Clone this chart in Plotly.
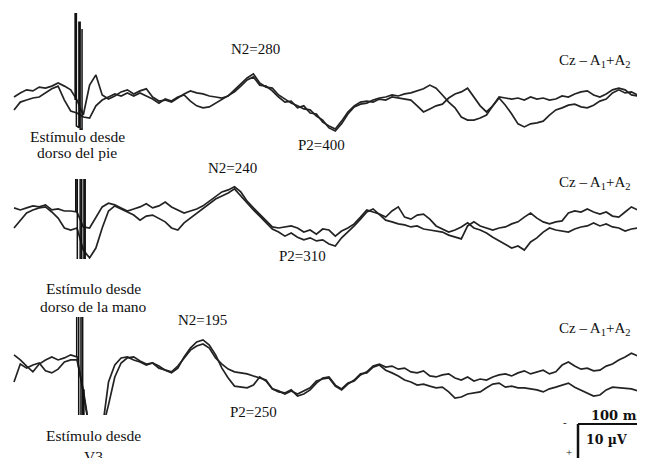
import plotly.graph_objects as go

# The page body adds an 8 px margin, so the figure is sized to fill the rest of
# the 645x458 window and reference pixel positions are shifted by that margin.
OX, OY = 8, 8
W, H = 645 - OX, 458 - OY

# sample times (ms after stimulus)
t_ms = list(range(-100, 901, 10))

# ---- amplitudes in µV (negative plotted upward) ----
pie_a = [
    0.0, -1.2, -2.1, -1.8, -2.9, -2.6, -3.2, -4.1, -3.2, -2.1,
    0.9, 5.3, -3.5, -6.5, -0.6, 0.6, -0.3, -1.5, -2.1, -0.9,
    -1.8, -2.4, 0.0, 1.2, 0.9, 1.5, 0.3, -0.9, -1.8, -1.2,
    -0.9, -0.3, 0.0, 0.3, -0.3, -2.1, -3.8, -5.6, -6.8, -4.1,
    -2.9, -2.6, -0.6, 0.6, 1.8, 2.6, 3.5, 3.8, 5.6, 6.8,
    9.1, 10.0, 7.9, 5.0, 2.9, 2.1, 1.8, 0.9, 0.3, 0.0,
    -0.6, -0.3, -0.9, -1.2, -1.8, -2.4, -3.5, -2.6, -0.6, 1.5,
    3.2, 5.9, 6.8, 6.8, 6.2, 5.3, 2.6, 0.0, 0.3, 0.6,
    0.3, 0.9, 0.0, 0.6, 0.3, 0.9, 0.6, -0.3, 0.0, -0.9,
    -1.5, -1.8, -0.6, 0.0, -0.9, -2.1, -2.6, -2.1, -0.6, -0.3,
    -2.4]
pie_b = [
    3.8, 1.5, 0.9, 0.3, 0.0, -1.2, -2.4, -3.2, 0.9, 4.1,
    4.7, 5.9, 6.2, 2.6, 0.9, 0.0, -0.9, -0.3, -1.2, -0.3,
    -1.2, -0.3, 0.6, 1.8, 0.6, 1.2, 0.0, -0.6, 1.2, 2.6,
    3.2, 2.9, 1.8, 0.6, -0.6, -1.5, -3.2, -5.0, -5.9, -3.5,
    -3.2, -1.8, 0.0, 1.5, 1.2, 3.2, 2.6, 4.7, 5.0, 7.4,
    8.5, 9.4, 7.1, 4.4, 2.6, 1.5, 1.2, 1.5, 0.6, 0.9,
    0.0, 0.3, 0.6, 0.9, 2.6, 4.4, 3.5, 2.6, 2.1, 0.3,
    -0.9, -1.5, -2.6, 0.0, 2.6, 4.4, 2.6, 0.3, 2.4, 5.0,
    7.9, 8.8, 7.9, 7.6, 7.1, 5.3, 3.8, 3.2, 2.4, 2.1,
    2.9, 3.2, 2.4, 1.2, 0.6, -1.2, -2.1, -1.2, -1.5, -0.6,
    0.3]
mano_a = [
    -1.2, -0.6, -1.2, -1.8, -1.5, -2.1, -0.6, -0.9, -0.3, -0.3,
    0.0, 4.4, 4.7, 1.8, -1.5, -2.6, -2.1, -1.2, -0.3, -0.9,
    -1.5, -2.4, -1.2, -1.8, -2.9, -1.5, -0.6, 0.3, -0.3, -0.9,
    -1.8, -3.2, -4.4, -5.9, -6.5, -7.4, -5.9, -3.2, -1.2, 0.6,
    2.6, 4.4, 4.7, 4.4, 4.1, 4.7, 5.9, 5.3, 6.5, 5.0,
    5.3, 7.1, 5.6, 4.7, 3.5, 1.5, -0.6, 0.0, 0.6, 1.5,
    -0.3, -1.5, 1.5, 2.1, 0.9, 0.6, 2.1, 4.1, 5.0, 5.9,
    5.3, 4.4, 3.2, 4.7, 5.3, 6.2, 7.4, 8.5, 9.4, 10.6,
    10.0, 11.2, 8.8, 7.6, 5.9, 4.7, 5.3, 5.6, 5.9, 5.0,
    4.4, 4.1, 3.2, 4.1, 3.5, 4.4, 4.7, 5.6, 5.0, 4.7,
    4.1]
mano_b = [
    4.7, 2.6, 0.3, -0.6, -1.2, -1.5, 0.0, 1.8, 4.7, 5.3,
    4.7, 11.2, 13.5, 10.6, 4.7, -0.3, -1.8, -0.9, 0.0, 0.9,
    2.4, 1.2, 0.9, 1.8, 2.9, 4.7, 5.3, 3.2, 1.8, 0.3,
    -1.2, -2.4, -3.8, -4.7, -5.6, -6.8, -4.7, -2.6, -0.6, 1.2,
    3.2, 5.0, 5.9, 7.1, 6.2, 7.4, 8.2, 7.6, 8.5, 8.2,
    9.4, 10.0, 7.6, 5.9, 4.1, 2.1, 0.0, -0.9, 0.9, 2.4,
    2.9, 3.5, 3.8, 4.4, 4.1, 5.0, 5.3, 5.6, 5.9, 6.8,
    7.4, 7.9, 4.1, 2.9, 4.1, 4.7, 5.3, 4.7, 4.4, 3.5,
    2.9, 1.5, 0.3, 1.8, 2.9, 3.5, 2.9, 2.6, 0.3, -0.3,
    0.0, -0.9, 0.0, 0.6, 0.0, 1.2, 1.5, 0.0, -1.5, -0.6,
    0.3]
v3_a = [
    -2.1, -0.6, 1.2, 2.9, 0.6, -0.6, -1.5, -0.6, -1.2, -2.1,
    -1.5, 9.7, 20.0, 20.0, 20.0, 5.9, 0.9, -1.2, -1.5, -0.6,
    0.0, 0.9, 0.3, 1.2, 2.4, 3.2, 1.8, -1.5, -4.1, -5.9,
    -6.5, -5.0, -2.1, 1.8, 4.7, 7.1, 7.4, 7.6, 6.8, 4.4,
    5.6, 7.9, 8.8, 9.1, 8.2, 10.0, 9.4, 8.2, 6.2, 4.7,
    4.4, 6.8, 7.9, 6.2, 5.6, 3.8, 2.9, 1.2, 0.6, 1.5,
    1.2, 2.1, 1.8, 2.9, 3.2, 2.6, 4.1, 4.4, 3.8, 3.5,
    4.7, 5.3, 4.4, 5.6, 5.0, 5.3, 4.4, 3.8, 3.5, 4.1,
    3.2, 2.6, 3.5, 2.9, 2.4, 3.5, 2.9, 0.9, 0.0, 1.2,
    2.1, 1.8, 2.6, 2.4, 1.2, 0.6, -0.6, -1.5, -2.6, -1.8,
    -1.5]
v3_b = [
    5.9, 0.6, 1.8, 0.9, 0.3, 2.6, 3.2, 2.1, 0.0, -0.6,
    -0.6, 8.2, 20.0, 20.0, 20.0, 12.6, 4.4, 0.3, -1.2, -1.5,
    -0.3, 0.6, 0.3, 1.8, 2.4, 2.9, 1.2, -1.2, -3.5, -4.7,
    -5.3, -4.1, -1.2, 0.6, 2.1, 2.9, 3.2, 3.5, 4.1, 4.7,
    5.3, 7.9, 8.5, 9.4, 8.5, 9.4, 8.5, 7.6, 5.6, 5.0,
    4.7, 7.1, 8.2, 6.5, 5.3, 3.5, 3.2, 1.5, 0.9, 2.4,
    3.2, 4.1, 5.3, 5.9, 6.8, 6.5, 7.1, 7.6, 7.4, 8.8,
    10.6, 10.3, 9.4, 9.1, 8.8, 7.6, 6.5, 6.2, 7.4, 7.1,
    7.6, 7.6, 7.9, 8.2, 8.8, 7.9, 7.4, 6.8, 6.2, 7.4,
    8.2, 9.1, 10.0, 9.7, 8.2, 7.4, 7.6, 7.6, 7.9, 8.5,
    8.8]

# stimulus artefact strokes (ms, µV)
art_pie_t = [-3, -3, -1, -1, 3, 3, 5, 5, 8, 8]
art_pie_v = [0.9, -25, -25, 8.5, 9, -22, -22, 9.5, 9.5, -20]
art_mano_t = [-2, -2, 0.5, 0.5, 5, 5, 7.5, 7.5, 11, 11, 13, 13]
art_mano_v = [0, -12, -12, 15, 15, -12, -12, 15, 15, -12, -12, 15]
art_v3_t = [-0.5, -0.5, 2.7, 2.7, 6.3, 6.3, 9, 9, 11, 11]
art_v3_v = [-1.5, -15, -15, 18, 18, -15, -15, 18, 18, 8]

# ---- layout geometry (reference pixels) ----
T0_PX, PX_PER_MS, PX_PER_UV = 77, 0.63, 3.4
x_range = [(OX - T0_PX) / PX_PER_MS, (OX + W - T0_PX) / PX_PER_MS]
panels = [  # (top px, bottom px, baseline px)
    (13, 133, 97),
    (179, 259, 212),
    (317, 415, 362),
]
series = [
    (pie_a, pie_b, art_pie_t, art_pie_v),
    (mano_a, mano_b, art_mano_t, art_mano_v),
    (v3_a, v3_b, art_v3_t, art_v3_v),
]


def px_x(px):
    return (px - OX) / W


def px_y(py):
    return 1 - (py - OY) / H


LINE = "#232323"
fig = go.Figure()
layout = dict(width=W, height=H, margin=dict(l=0, r=0, t=0, b=0),
              autosize=False, plot_bgcolor="white", paper_bgcolor="white",
              showlegend=False)

for k, ((top, bot, base), (a, b, at, av)) in enumerate(zip(panels, series)):
    sfx = "" if k == 0 else str(k + 1)
    xa, ya = "x" + sfx, "y" + sfx
    for vals in (a, b):
        fig.add_trace(go.Scatter(x=t_ms, y=vals, mode="lines", xaxis=xa, yaxis=ya,
                                 line=dict(color=LINE, width=1.7), hoverinfo="skip"))
    fig.add_trace(go.Scatter(x=at, y=av, mode="lines", xaxis=xa, yaxis=ya,
                             line=dict(color="#111111", width=1.5), hoverinfo="skip"))
    layout["xaxis" + sfx] = dict(domain=[0, 1], range=x_range, visible=False,
                                 anchor=ya, fixedrange=True)
    layout["yaxis" + sfx] = dict(domain=[px_y(bot), px_y(top)],
                                 range=[(bot - base) / PX_PER_UV, (top - base) / PX_PER_UV],
                                 visible=False, anchor=xa, fixedrange=True)

fig.update_layout(**layout)

SERIF = "Liberation Serif, Times New Roman, serif"
WIDE_SERIF = "DejaVu Serif, serif"


def label(text, px, py, size=15, xanchor="center", bold=False, family=SERIF):
    fig.add_annotation(text=("<b>%s</b>" % text) if bold else text,
                       x=px_x(px), y=px_y(py), xref="paper", yref="paper",
                       xanchor=xanchor, yanchor="middle", showarrow=False,
                       font=dict(family=family, size=size, color="#111111"))


cz = "Cz – A<sub>1</sub>+A<sub>2</sub>"
label("N2=280", 255, 49)
label("P2=400", 321, 145)
label(cz, 557, 61, xanchor="left")
label("Estímulo desde", 77, 136, size=15.5)
label("dorso del pie", 77, 152, size=15.5)

label("N2=240", 232, 168)
label("P2=310", 302, 256)
label(cz, 557, 183, xanchor="left")
label("Estímulo desde", 93, 288, size=15.5)
label("dorso de la mano", 93, 306, size=15.5)

label("N2=195", 202, 320)
label("P2=250", 253, 412)
label(cz, 557, 329, xanchor="left")
label("Estímulo desde", 93, 435, size=15.5)
label("V3", 93, 456, size=15.5)

# scale bar: 100 ms horizontal, 10 µV vertical
sb_x, sb_y = 578, 424
fig.add_shape(type="line", xref="paper", yref="paper",
              x0=px_x(sb_x), x1=px_x(sb_x + 100 * PX_PER_MS + 8),
              y0=px_y(sb_y), y1=px_y(sb_y), line=dict(color="#111111", width=2))
fig.add_shape(type="line", xref="paper", yref="paper",
              x0=px_x(sb_x), x1=px_x(sb_x),
              y0=px_y(sb_y), y1=px_y(sb_y + 10 * PX_PER_UV),
              line=dict(color="#111111", width=2.5))
label("100 ms", 617, 415, size=13, bold=True, family=WIDE_SERIF)
label("10 µV", 606, 439, size=12.5, bold=True, family=WIDE_SERIF)
label("-", 565, 422, size=11)
label("+", 569, 452, size=11)

fig.write_html("out.html")
